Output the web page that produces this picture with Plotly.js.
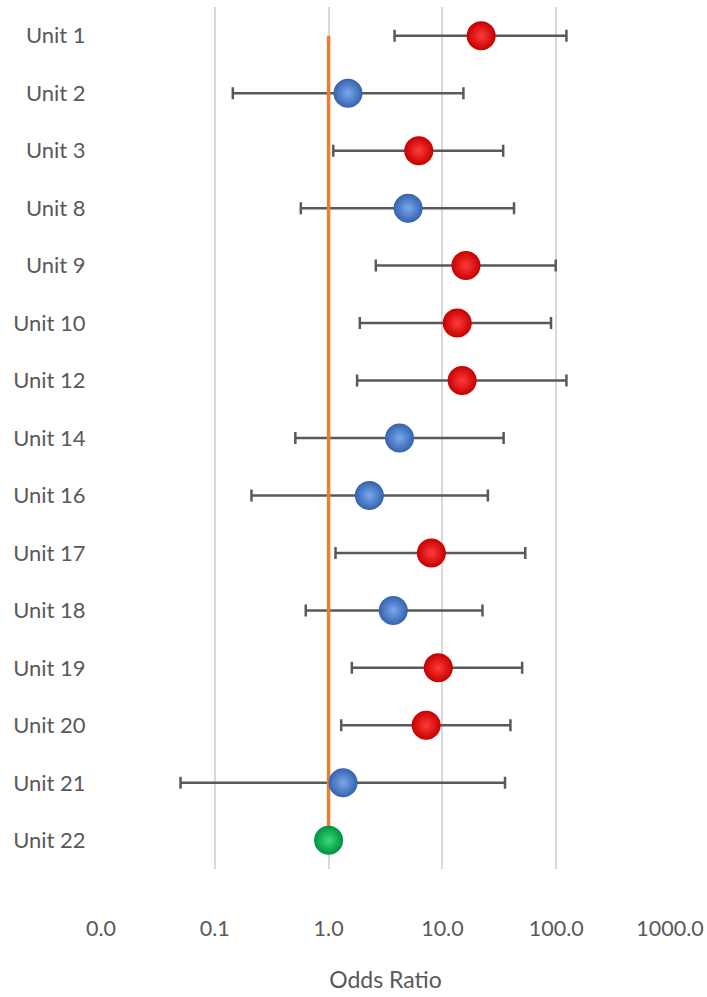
<!DOCTYPE html>
<html>
<head>
<meta charset="utf-8">
<script src="https://cdn.plot.ly/plotly-3.0.1.min.js"></script>
<style>html,body{margin:0;padding:0;background:#fff;}#chart{width:707px;height:997px;}</style>
</head>
<body>
<div id="chart"></div>
<script>
// ---- Data ----
const units = ["Unit 1","Unit 2","Unit 3","Unit 8","Unit 9","Unit 10","Unit 12","Unit 14","Unit 16","Unit 17","Unit 18","Unit 19","Unit 20","Unit 21","Unit 22"];
const oddsRatio = [21.9, 1.48, 6.2, 5.0, 16.1, 13.5, 14.9, 4.2, 2.28, 8.0, 3.7, 9.2, 7.2, 1.34, 1.0];
const ciLower  = [3.8, 0.144, 1.10, 0.57, 2.6, 1.88, 1.78, 0.51, 0.21, 1.15, 0.63, 1.60, 1.29, 0.050, 1.0];
const ciUpper  = [123, 15.3, 34.2, 42.6, 99, 90, 123, 34.5, 25.1, 53.5, 22.5, 50.2, 39.6, 35.5, 1.0];
const status   = ["sig","ns","sig","ns","sig","sig","sig","ns","ns","sig","ns","sig","sig","ns","ref"];
const refValue = 1;
const tickVals = [0.01, 0.1, 1, 10, 100, 1000];
const tickText = ["0.0","0.1","1.0","10.0","100.0","1000.0"];

// ---- Styles ----
const fillCenter = {sig:"#FF3B3B", ns:"#7AA8EC", ref:"#3ADB7A"};
const fillEdge   = {sig:"#C40000", ns:"#3462AE", ref:"#00913F"};
const txt = "#595959";
const font = "Lato, 'Open Sans', sans-serif";

const errPlus  = oddsRatio.map((v,i)=>ciUpper[i]-v);
const errMinus = oddsRatio.map((v,i)=>v-ciLower[i]);

const traces = [
  {
    type:"scatter", mode:"markers", x:oddsRatio, y:units,
    marker:{size:1, opacity:0},
    error_x:{type:"data", symmetric:false, array:errPlus, arrayminus:errMinus,
             color:"#595959", thickness:2.5, width:6},
    hoverinfo:"skip", showlegend:false
  },
  {
    type:"scatter", mode:"lines",
    x:[refValue, refValue], y:[units[0], units[units.length-1]],
    line:{color:"#ED7D31", width:3.5}, showlegend:false, hoverinfo:"skip"
  },
  {
    type:"scatter", mode:"markers", x:oddsRatio, y:units,
    marker:{
      size:29,
      color:status.map(s=>fillEdge[s]),
      gradient:{type:"radial", color:status.map(s=>fillCenter[s])},
      line:{width:0}
    },
    showlegend:false
  }
];

const layout = {
  width:707, height:997,
  margin:{l:101, r:37, t:7, b:128},
  paper_bgcolor:"#fff", plot_bgcolor:"#fff",
  font:{family:font, color:txt, size:21},
  showlegend:false,
  xaxis:{
    type:"log", range:[-2,3],
    tickvals:tickVals, ticktext:tickText,
    showgrid:true, gridcolor:"#D9D9D9", gridwidth:2,
    zeroline:false, showline:false,
    ticks:"outside", ticklen:40, tickcolor:"rgba(0,0,0,0)",
    tickfont:{family:font, size:21.5, color:txt},
    title:{text:"Odds Ratio", font:{family:font, size:23, color:txt}, standoff:32},
    fixedrange:true
  },
  yaxis:{
    type:"category", categoryorder:"array", categoryarray:units,
    range:[units.length-0.5, -0.5],
    showgrid:false, zeroline:false, showline:false,
    ticks:"outside", ticklen:10, tickcolor:"rgba(0,0,0,0)",
    tickfont:{family:font, size:22, color:txt},
    fixedrange:true
  }
};

Plotly.newPlot("chart", traces, layout, {displayModeBar:false, staticPlot:true});
</script>
</body>
</html>
